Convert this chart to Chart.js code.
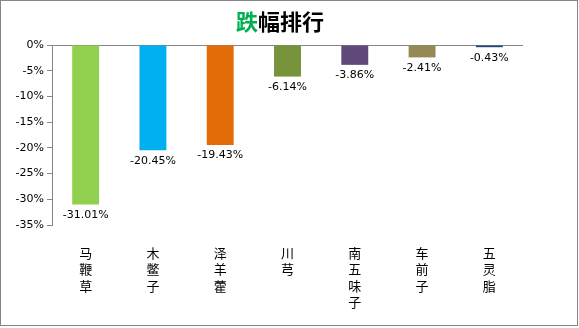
<!DOCTYPE html>
<html>
<head>
<meta charset="utf-8">
<script src="https://cdn.jsdelivr.net/npm/chart.js@4/dist/chart.umd.min.js"></script>
<style>
  html, body { margin: 0; padding: 0; background: #fff; }
  #wrap { width: 579px; height: 328px; position: relative; }
</style>
</head>
<body>
<div id="wrap"><canvas id="c" width="579" height="328"></canvas></div>
<script>
// Herbs with the largest price drops
const categories = ['马鞭草', '木鳖子', '泽羊藿', '川芎', '南五味子', '车前子', '五灵脂'];
const changes = [-31.01, -20.45, -19.43, -6.14, -3.86, -2.41, -0.43];
const barColors = ['#92D050', '#00B0F0', '#E36C09', '#77933C', '#604A7B', '#948A54', '#1F497D'];
const yTicks = [0, -5, -10, -15, -20, -25, -30, -35];
const titleParts = [{ text: '跌', color: '#00B050' }, { text: '幅排行', color: '#000000' }];

const AXIS_GRAY = '#868686';
const LABEL_FONT = '11px "DejaVu Sans", sans-serif';
const CJK_FONT = '"Noto Sans CJK SC", sans-serif';

// Two-colour title, outer frame and value labels
const decorations = {
  id: 'decorations',
  afterDraw(chart) {
    const ctx = chart.ctx;
    ctx.save();
    // frame
    ctx.strokeStyle = AXIS_GRAY;
    ctx.lineWidth = 1;
    ctx.strokeRect(0.5, 0.5, 577, 325);

    // title
    ctx.font = 'bold 22px ' + CJK_FONT;
    ctx.textBaseline = 'middle';
    ctx.textAlign = 'left';
    const total = titleParts.reduce((w, p) => w + ctx.measureText(p.text).width, 0);
    let x = 280 - total / 2;
    titleParts.forEach(p => {
      ctx.fillStyle = p.color;
      ctx.fillText(p.text, x, 22);
      x += ctx.measureText(p.text).width;
    });

    // value labels below each bar
    const meta = chart.getDatasetMeta(0);
    ctx.font = LABEL_FONT;
    ctx.fillStyle = '#000';
    ctx.textAlign = 'center';
    ctx.textBaseline = 'top';
    meta.data.forEach((bar, i) => {
      ctx.fillText(changes[i].toFixed(2) + '%', bar.x, bar.y + 5);
    });
    ctx.restore();
  }
};

new Chart(document.getElementById('c'), {
  type: 'bar',
  data: {
    labels: categories.map(s => s.split('')),
    datasets: [{
      data: changes,
      backgroundColor: barColors,
      borderWidth: 0,
      categoryPercentage: 1,
      barPercentage: 0.4
    }]
  },
  options: {
    responsive: false,
    animation: false,
    events: [],
    layout: { padding: { left: 0, top: 45, right: 56, bottom: 0 } },
    plugins: { legend: { display: false }, tooltip: { enabled: false }, title: { display: false } },
    scales: {
      x: {
        position: 'bottom',
        border: { display: false },
        grid: { display: false },
        ticks: {
          color: '#000',
          font: { family: CJK_FONT, size: 13, lineHeight: 1.25 },
          padding: 12,
          maxRotation: 0,
          autoSkip: false
        },
        afterFit(scale) { scale.height = 103; }
      },
      y: {
        min: -35,
        max: 0,
        border: { display: true, color: AXIS_GRAY, width: 1 },
        grid: {
          drawOnChartArea: true,
          color: ctx => (ctx.tick && ctx.tick.value === 0 ? AXIS_GRAY : 'rgba(0,0,0,0)'),
          tickColor: AXIS_GRAY,
          tickLength: 5,
          lineWidth: 1
        },
        afterBuildTicks(scale) { scale.ticks = yTicks.map(v => ({ value: v })); },
        ticks: {
          color: '#000',
          font: { family: '"DejaVu Sans", sans-serif', size: 11 },
          padding: 3,
          callback: v => v + '%'
        },
        afterFit(scale) { scale.width = 52; }
      }
    }
  },
  plugins: [decorations]
});
</script>
</body>
</html>
